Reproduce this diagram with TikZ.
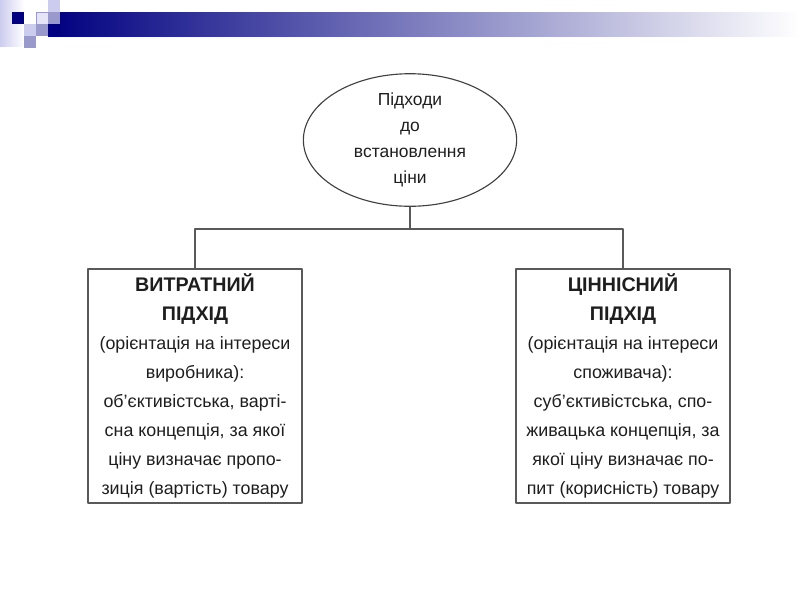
\documentclass[tikz,border=0pt]{standalone}
\usepackage{fontspec}
\setmainfont{Liberation Sans}
\usetikzlibrary{shapes.geometric}
\definecolor{slnavy}{RGB}{0,0,128}
\definecolor{slmid}{RGB}{153,153,204}
\definecolor{sllight}{RGB}{204,204,238}
\definecolor{inkgray}{RGB}{30,30,30}
\newcommand{\boxhead}[1]{{\fontsize{14}{20.6}\selectfont\bfseries #1}}

\begin{document}
\begin{tikzpicture}[x=0.025cm,y=-0.025cm,line cap=round,line join=round,
  approach/.style={draw=black!65,line width=0.8pt,text=inkgray,align=center,inner sep=0pt,
    minimum width=5.35cm,minimum height=5.85cm,font=\fontsize{12.7}{20.6}\selectfont},
  link/.style={draw=black!65,line width=0.8pt}]
\useasboundingbox (0,0) rectangle (800,600);
% slide header
\shade[left color=sllight,right color=white] (0,0) rectangle (24,46);
\shade[left color=slnavy,right color=white] (48,12) rectangle (800,36);
\fill[slnavy] (12,12) rectangle (24,24);
\fill[sllight] (48,0) rectangle (60,12);
\fill[sllight!50!white,draw=slmid,line width=0.4pt] (36,12) rectangle (48,24);
\fill[slmid] (48,12) rectangle (60,24);
\fill[sllight] (24,24) rectangle (36,36);
\fill[slmid] (36,24) rectangle (48,36);
\fill[slnavy] (48,24) rectangle (60,36);
\fill[slmid] (24,36) rectangle (36,48);
% diagram
\node[ellipse,draw=black!75,line width=0.8pt,minimum width=5.33cm,minimum height=3cm,inner sep=0pt,
  align=center,text=inkgray,font=\fontsize{12.4}{18.4}\selectfont] (root) at (410,140)
  {Підходи\\до\\встановлення\\ціни};
\node[approach] (cost) at (195,386) {\boxhead{ВИТРАТНИЙ}\\\boxhead{ПІДХІД}\\(орієнтація на інтереси\\виробника):\\об’єктивістська, варті-\\сна концепція, за якої\\ціну визначає пропо-\\зиція (вартість) товару};
\node[approach] (value) at (623,386) {\boxhead{ЦІННІСНИЙ}\\\boxhead{ПІДХІД}\\(орієнтація на інтереси\\споживача):\\суб’єктивістська, спо-\\живацька концепція, за\\якої ціну визначає по-\\пит (корисність) товару};
\coordinate (fork) at (410,229);
\draw[link] (root) -- (fork);
\draw[link] (cost) |- (fork) -| (value);
\end{tikzpicture}
\end{document}
